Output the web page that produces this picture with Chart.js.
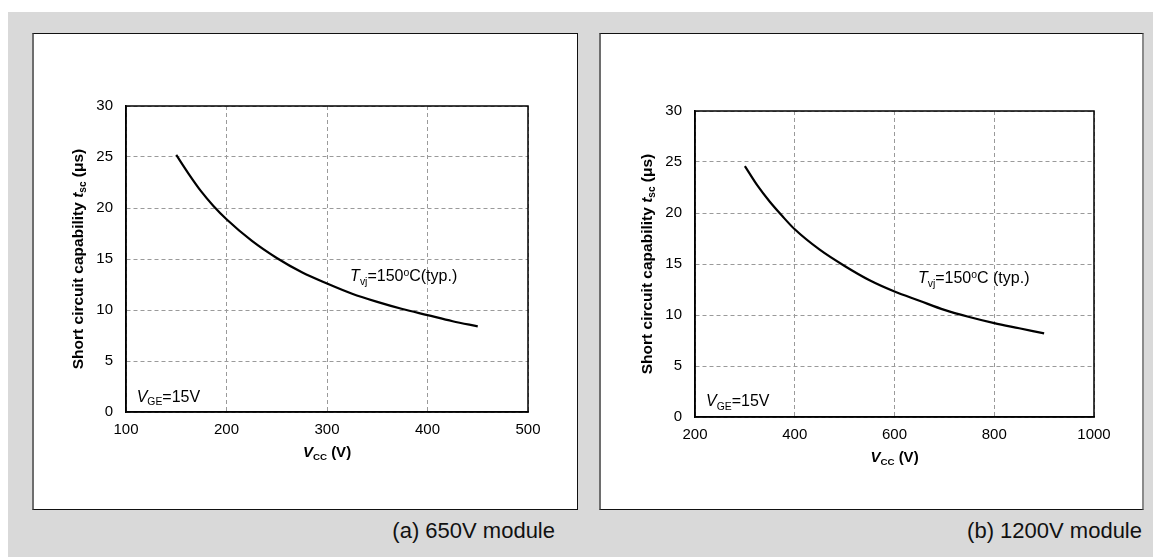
<!DOCTYPE html>
<html>
<head>
<meta charset="utf-8">
<title>Short circuit capability</title>
<script src="https://cdn.jsdelivr.net/npm/chart.js@4.4.1/dist/chart.umd.min.js"></script>
<style>
    body { margin: 0; width: 1153px; height: 557px; overflow: hidden; position: relative; background: #fff;
           font-family: "Liberation Sans", Arial, sans-serif; }
    .backdrop { position: absolute; left: 8px; top: 12px; width: 1145px; height: 545px; background: #d9d9d9; }
    .panel { position: absolute; top: 33px; height: 475px; background: #fff;
             border: 1px solid #111; border-left: 2px solid #6e6e6e; }
    #panel-a { left: 32px; width: 543px; }
    #panel-b { left: 599px; width: 541px; border-right: 2px solid #8a8a8a; }
    .panel canvas { display: block; }
    .caption { position: absolute; top: 519px; width: 300px; text-align: right;
               font-size: 22px; line-height: 24px; color: #111; }
    #caption-a { left: 255px; }
    #caption-b { left: 842px; }
</style>
</head>
<body>
<div class="backdrop"></div>
<div class="panel" id="panel-a"><canvas id="chartA" width="543" height="475"></canvas></div>
<div class="panel" id="panel-b"><canvas id="chartB" width="541" height="475"></canvas></div>
<div class="caption" id="caption-a">(a) 650V module</div>
<div class="caption" id="caption-b">(b) 1200V module</div>

<script>
// Data
const vccA = [150, 162, 175, 187, 200, 225, 250, 275, 300, 325, 350, 375, 400, 425, 450];
const tscA = [25.2, 23.4, 21.6, 20.2, 18.9, 16.8, 15.1, 13.7, 12.6, 11.6, 10.8, 10.1, 9.5, 8.9, 8.4];

const vccB = [300, 325, 350, 375, 400, 450, 500, 550, 600, 650, 700, 750, 800, 850, 900];
const tscB = [24.6, 22.7, 21.1, 19.7, 18.4, 16.4, 14.8, 13.4, 12.3, 11.4, 10.5, 9.8, 9.2, 8.7, 8.2];

const xTicksA = [100, 200, 300, 400, 500];
const xTicksB = [200, 400, 600, 800, 1000];
const yTicks = [0, 5, 10, 15, 20, 25, 30];

const FONT = '"Liberation Sans", Arial, sans-serif';

// Draws a run of text pieces (italic / subscript / superscript) on the canvas
function drawRich(ctx, parts, x, y, size, align, bold) {
    const weight = bold ? "bold " : "";
    const pieces = parts.map(p => {
        const s = (p.sub || p.sup) ? size * 0.65 : size;
        const font = (p.i ? "italic " : "") + weight + s + "px " + FONT;
        ctx.font = font;
        return {
            text: p.t,
            font: font,
            w: ctx.measureText(p.t).width,
            dy: p.sub ? size * 0.22 : (p.sup ? -size * 0.36 : 0)
        };
    });
    const total = pieces.reduce((a, p) => a + p.w, 0);
    let cx = align === "center" ? x - total / 2 : x;
    ctx.save();
    ctx.fillStyle = "#000";
    ctx.textAlign = "left";
    ctx.textBaseline = "alphabetic";
    pieces.forEach(p => {
        ctx.font = p.font;
        ctx.fillText(p.text, cx, y + p.dy);
        cx += p.w;
    });
    ctx.restore();
}

const xTitle = [{ t: "V", i: true }, { t: "CC", sub: true }, { t: " (V)" }];
const yTitle = [{ t: "Short circuit capability " }, { t: "t", i: true }, { t: "sc", sub: true }, { t: " (\u03bcs)" }];

// Frame around the plot, axis titles and notes
const richTextPlugin = {
    id: "richText",
    afterDraw(chart, args, opts) {
        const ctx = chart.ctx;
        const area = chart.chartArea;
        const xs = chart.scales.x;
        const ys = chart.scales.y;

        ctx.save();
        ctx.strokeStyle = "#000";
        ctx.lineWidth = 1.5;
        ctx.strokeRect(area.left, area.top, area.right - area.left, area.bottom - area.top);
        ctx.restore();

        drawRich(ctx, xTitle, (area.left + area.right) / 2, area.bottom + 45, 15, "center", true);

        ctx.save();
        ctx.translate(area.left - 43, (area.top + area.bottom) / 2);
        ctx.rotate(-Math.PI / 2);
        drawRich(ctx, yTitle, 0, 0, 15.5, "center", true);
        ctx.restore();

        (opts.notes || []).forEach(n => {
            drawRich(ctx, n.parts, xs.getPixelForValue(n.x), ys.getPixelForValue(n.y), 16, "left", false);
        });
    }
};

function buildChart(canvasId, vcc, tsc, xTicks, padding, notes) {
    const ctx = document.getElementById(canvasId).getContext("2d");
    const tickFont = { family: FONT, size: 15 };
    const grid = { color: "#9a9a9a", lineWidth: 1, drawTicks: false };
    const border = { display: true, color: "#000", width: 1.5, dash: [4, 3] };

    return new Chart(ctx, {
        type: "line",
        data: {
            datasets: [{
                data: vcc.map((v, i) => ({ x: v, y: tsc[i] })),
                borderColor: "#000",
                borderWidth: 2.2,
                pointRadius: 0,
                fill: false,
                cubicInterpolationMode: "monotone"
            }]
        },
        options: {
            responsive: false,
            animation: false,
            layout: { padding: padding },
            plugins: {
                legend: { display: false },
                tooltip: { enabled: false },
                richText: { notes: notes }
            },
            scales: {
                x: {
                    type: "linear",
                    min: xTicks[0],
                    max: xTicks[xTicks.length - 1],
                    afterBuildTicks: s => { s.ticks = xTicks.map(v => ({ value: v })); },
                    afterFit: s => { s.height = 30; },
                    grid: grid,
                    border: border,
                    ticks: { color: "#000", font: tickFont, padding: 9, maxRotation: 0, callback: v => String(v) }
                },
                y: {
                    min: yTicks[0],
                    max: yTicks[yTicks.length - 1],
                    afterBuildTicks: s => { s.ticks = yTicks.map(v => ({ value: v })); },
                    afterFit: s => { s.width = 40; },
                    grid: grid,
                    border: border,
                    ticks: { color: "#000", font: tickFont, padding: 13, callback: v => String(v) }
                }
            }
        },
        plugins: [richTextPlugin]
    });
}

document.addEventListener("DOMContentLoaded", function () {
    buildChart("chartA", vccA, tscA, xTicksA,
        { left: 52, right: 49, top: 72, bottom: 67 },
        [
            { x: 323, y: 12.8, parts: [{ t: "T", i: true }, { t: "vj", sub: true }, { t: "=150" }, { t: "o", sup: true }, { t: "C(typ.)" }] },
            { x: 110.6, y: 1.0, parts: [{ t: "V", i: true }, { t: "GE", sub: true }, { t: "=15V" }] }
        ]);

    buildChart("chartB", vccB, tscB, xTicksB,
        { left: 54, right: 48, top: 77, bottom: 62 },
        [
            { x: 647, y: 13.1, parts: [{ t: "T", i: true }, { t: "vj", sub: true }, { t: "=150" }, { t: "o", sup: true }, { t: "C (typ.)" }] },
            { x: 222, y: 1.08, parts: [{ t: "V", i: true }, { t: "GE", sub: true }, { t: "=15V" }] }
        ]);
});
</script>
</body>
</html>
